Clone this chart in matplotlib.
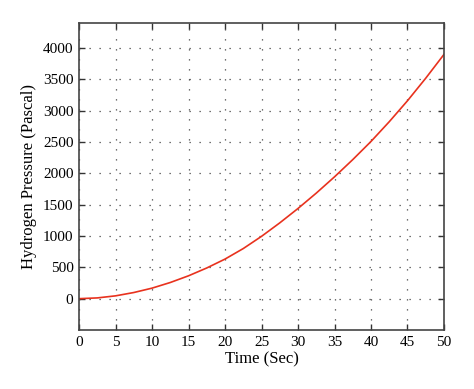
import numpy as np
import matplotlib
matplotlib.use('Agg')
import matplotlib.pyplot as plt

# values
time_s = [0, 2.5, 5, 7.5, 10, 12.5, 15, 17.5, 20, 22.5, 25,
          27.5, 30, 32.5, 35, 37.5, 40, 42.5, 45, 47.5, 50]
pressure = [0, 12, 45, 98, 168, 258, 365, 490, 632, 800, 995,
            1210, 1440, 1685, 1945, 2220, 2510, 2825, 3160, 3520, 3900]

xticks = [0, 5, 10, 15, 20, 25, 30, 35, 40, 45, 50]
yticks = [0, 500, 1000, 1500, 2000, 2500, 3000, 3500, 4000]

plt.rcParams['font.family'] = ['Liberation Serif', 'DejaVu Serif']

fig = plt.figure(figsize=(4.74, 3.89), dpi=100)
ax = fig.add_axes([0.1667, 0.1517, 0.77, 0.789])

ax.plot(time_s, pressure, color='#e8321e', lw=1.2)

ax.set_xlim(0, 50)
ax.set_ylim(-500, 4400)
ax.set_xticks(xticks)
ax.set_yticks(yticks)

ax.grid(True, color='#444444', linestyle=(0, (1, 7)), linewidth=0.9)
ax.tick_params(direction='in', length=4, width=1, top=True, right=True,
               labelsize=11, colors='#333333', labelcolor='black', pad=4)
for s in ax.spines.values():
    s.set_color('#444444')
    s.set_linewidth(1.2)

ax.set_xlabel('Time (Sec)', fontsize=12, labelpad=2)
ax.set_ylabel('Hydrogen Pressure (Pascal)', fontsize=12, labelpad=4)

fig.savefig('out.png', dpi=100)
